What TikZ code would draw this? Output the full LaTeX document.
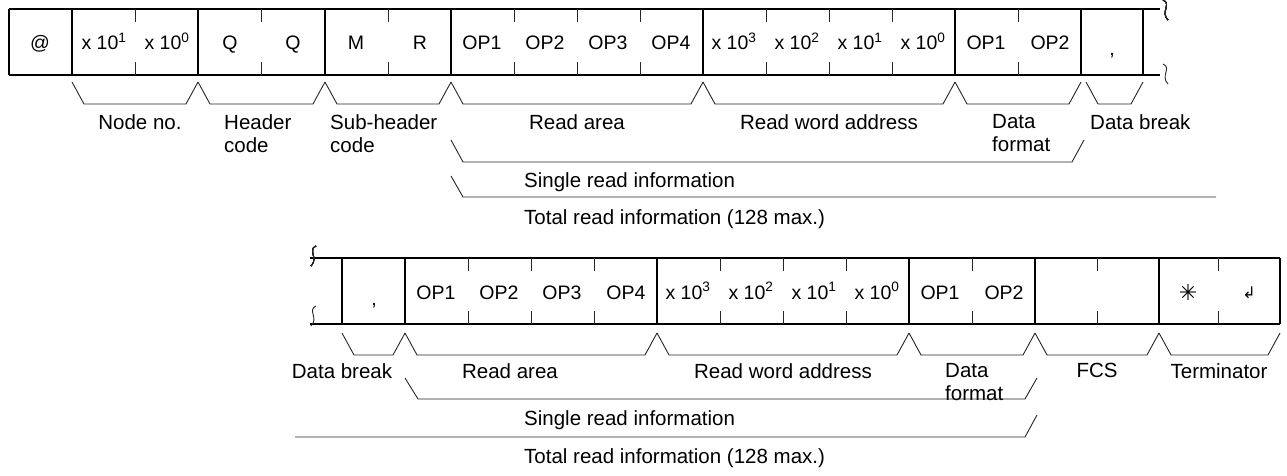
\documentclass[tikz,border=0pt]{standalone}
\usepackage{fontspec}
\setmainfont{Liberation Sans}
\newfontfamily\symfont{DejaVu Sans}
\usetikzlibrary{positioning}

\tikzset{
  cell/.style={font=\fontsize{19.5}{22}\selectfont, anchor=base},
  lbl/.style={font=\fontsize{20.5}{23}\selectfont, align=left, anchor=north west, inner sep=0pt},
  lblc/.style={lbl, anchor=north},
  frame/.style={line width=1.2pt, black},
  thin/.style={line width=0.9pt, black!85}
}
% brace-like trapezoid under a group of cells
\newcommand{\grp}[3]{\draw[thin] (#1,#3) -- (#1+12,#3+22) -- (#2-12,#3+22) -- (#2,#3);}
% split cell: short ticks at top and bottom
\newcommand{\tick}[3]{\draw[thin] (#1,#2) -- (#1,#2+13) (#1,#3) -- (#1,#3-13);}

\begin{document}
\begin{tikzpicture}[x=1pt, y=-1pt]
    \useasboundingbox (0,0) rectangle (1287,476);

    % ---------- first line ----------
    \draw[frame] (9,9) -- (1160,9) (9,75) -- (1160,75) (9,9) -- (9,75);
    \foreach \x in {72,198,325,451,703,955,1081,1143}
      \draw[frame] (\x,9) -- (\x,75);
    \foreach \x in {135,261,388,514,577,640,766,829,892,1018}
      \tick{\x}{9}{75}
    \draw[thin] (1163,0) .. controls (1172,4) and (1160,12) .. (1168,20);
    \draw[thin] (1163,64) .. controls (1172,68) and (1160,76) .. (1168,84);

    \node[cell] (at) at (40,50) {@};
    \node[cell] (na) at (104,50) {x 10\textsuperscript{1}};
    \node[cell] (nb) at (167,50) {x 10\textsuperscript{0}};
    \node[cell] (ha) at (230,50) {Q};
    \node[cell] (hb) at (293,50) {Q};
    \node[cell] (sa) at (356,50) {M};
    \node[cell] (sb) at (420,50) {R};
    \foreach \i/\x in {1/482,2/545,3/608,4/671}
      \node[cell] (ra\i) at (\x,50) {OP\i};
    \foreach \i/\x in {3/734,2/797,1/860,0/923}
      \node[cell] (wa\i) at (\x,50) {x 10\textsuperscript{\i}};
    \node[cell] (fa1) at (986,50) {OP1};
    \node[cell] (fa2) at (1050,50) {OP2};
    \node[cell] (db) at (1112,56) {,};

    \grp{72}{198}{82} \grp{198}{325}{82} \grp{325}{451}{82}
    \grp{451}{703}{82} \grp{703}{955}{82} \grp{955}{1081}{82}
    \grp{1086}{1143}{82}

    \node[lblc] (node) at (140,114) {Node no.};
    \node[lbl] (hdr) at (224,114) {Header\\code};
    \node[lbl] (sub) at (330,114) {Sub-header\\code};
    \node[lblc] (area) at (577,114) {Read area};
    \node[lblc] (addr) at (829,114) {Read word address};
    \node[lbl] (fmt) at (992,114) {Data\\format};
    \node[lbl] (brk) at (1090,114) {Data break};

    \draw[thin] (451,140) -- (463,162) -- (1072,162) -- (1084,140);
    \node[lbl] (single) at (524,172) {Single read information};
    \draw[thin] (451,176) -- (463,197) -- (1216,197);
    \node[lbl] (total) at (524,209) {Total read information (128 max.)};

    % ---------- second line ----------
    \draw[frame] (310,258) -- (1280,258) (310,324) -- (1280,324) (1280,258) -- (1280,324);
    \foreach \x in {342,405,657,909,1035,1159}
      \draw[frame] (\x,258) -- (\x,324);
    \foreach \x in {468,531,594,720,783,846,972,1097,1218}
      \tick{\x}{258}{324}
    \draw[thin] (316,246) .. controls (307,250) and (319,258) .. (311,266);
    \draw[thin] (316,306) .. controls (307,310) and (319,318) .. (311,326);

    \node[cell] (db2) at (374,305) {,};
    \foreach \i/\x in {1/436,2/499,3/562,4/626}
      \node[cell] (rb\i) at (\x,299) {OP\i};
    \foreach \i/\x in {3/688,2/751,1/814,0/877}
      \node[cell] (wb\i) at (\x,299) {x 10\textsuperscript{\i}};
    \node[cell] (fb1) at (940,299) {OP1};
    \node[cell] (fb2) at (1004,299) {OP2};
    \node[cell, font=\symfont\fontsize{22}{24}\selectfont] (ast) at (1188,300) {✳};
    \node[cell, font=\symfont\fontsize{16}{18}\selectfont] (cr) at (1249,298) {↲};

    \grp{342}{405}{333} \grp{405}{657}{333} \grp{657}{909}{333}
    \grp{909}{1035}{333} \grp{1035}{1159}{333} \grp{1159}{1280}{333}

    \node[lblc] (brk2) at (342,363) {Data break};
    \node[lblc] (area2) at (510,363) {Read area};
    \node[lblc] (addr2) at (783,363) {Read word address};
    \node[lbl] (fmt2) at (945,363) {Data\\format};
    \node[lblc] (fcs) at (1097,363) {FCS};
    \node[lblc] (term) at (1219,363) {Terminator};

    \draw[thin] (405,378) -- (418,399) -- (1025,399) -- (1037,378);
    \node[lbl] (single2) at (524,410) {Single read information};
    \draw[thin] (295,437) -- (1025,437) -- (1037,415);
    \node[lbl] (total2) at (524,448) {Total read information (128 max.)};
\end{tikzpicture}
\end{document}
